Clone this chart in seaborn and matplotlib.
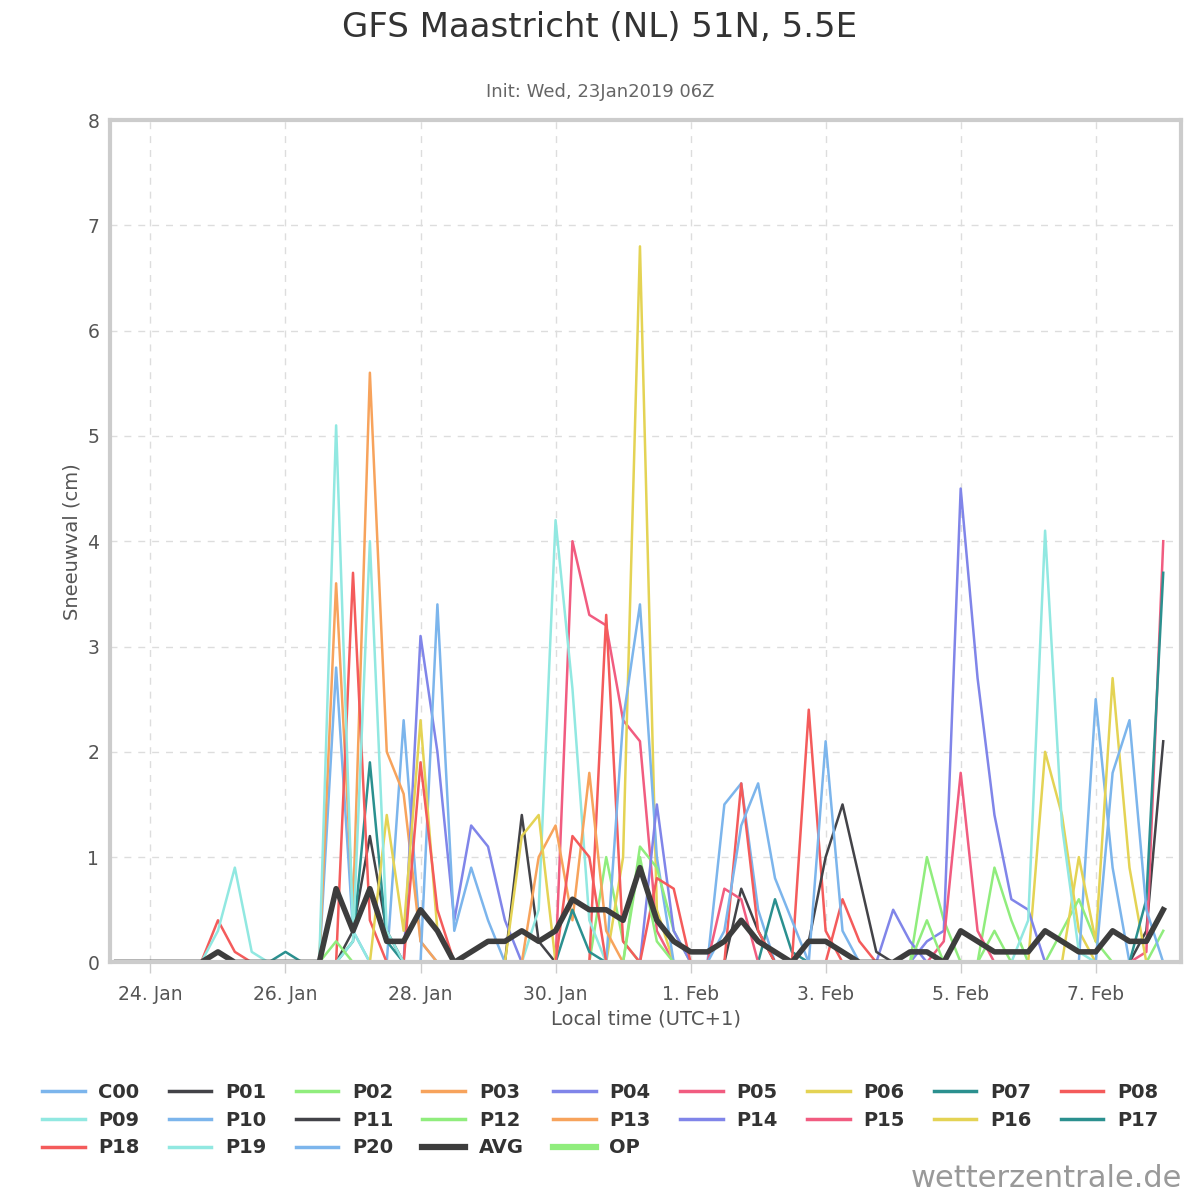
import numpy as np
import pandas as pd
import seaborn as sns
import matplotlib.pyplot as plt

# 6-hourly steps, first step at 23 Jan 12:00 local time
n_steps = 63
days = [-0.5 + 0.25 * i for i in range(n_steps)]

names = ["C00"] + [f"P{k:02d}" for k in range(1, 21)]
base_colors = ["#7cb5ec", "#434348", "#90ed7d", "#f7a35c", "#8085e9",
               "#f15c80", "#e4d354", "#2b908f", "#f45b5b", "#91e8e1"]

# peaks (step index: snowfall cm), all other steps 0
peaks = {
    "C00": {13: 2.8, 14: 0.3, 17: 2.3, 18: 0.2, 36: 1.5, 37: 1.7, 38: 0.5},
    "P01": {14: 0.3, 15: 1.2, 16: 0.3, 24: 1.4, 25: 0.2, 37: 0.7, 38: 0.3},
    "P02": {29: 1.0, 30: 0.2, 48: 1.0, 49: 0.4, 52: 0.9, 53: 0.4},
    "P03": {13: 3.6, 14: 0.5, 15: 5.6, 16: 2.0, 17: 1.6, 18: 0.2},
    "P04": {18: 3.1, 19: 2.0, 20: 0.4, 21: 1.3, 22: 1.1, 23: 0.4, 46: 0.5, 47: 0.2},
    "P05": {27: 4.0, 28: 3.3, 29: 3.2, 30: 2.3, 31: 2.1, 32: 0.3},
    "P06": {30: 1.0, 31: 6.8, 32: 0.5, 55: 2.0, 56: 1.4, 57: 0.3},
    "P07": {10: 0.1, 14: 0.2, 15: 1.9, 16: 0.2, 39: 0.6, 40: 0.1},
    "P08": {6: 0.4, 7: 0.1, 14: 3.7, 15: 0.4, 29: 3.3, 30: 0.2, 41: 2.4, 42: 0.3},
    "P09": {6: 0.3, 7: 0.9, 8: 0.1, 13: 5.1, 14: 0.3, 25: 0.5, 26: 4.2, 27: 2.6, 28: 0.4},
    "P10": {19: 3.4, 20: 0.3, 21: 0.9, 22: 0.4, 30: 2.3, 31: 3.4, 32: 1.0, 58: 2.5, 59: 0.9},
    "P11": {41: 0.2, 42: 1.0, 43: 1.5, 44: 0.8, 45: 0.1, 61: 0.3, 62: 2.1},
    "P12": {31: 1.1, 32: 0.9, 33: 0.3, 56: 0.3, 57: 0.6, 58: 0.2, 62: 0.3},
    "P13": {25: 1.0, 26: 1.3, 27: 0.4, 28: 1.8, 29: 0.3},
    "P14": {32: 1.5, 33: 0.3, 48: 0.2, 49: 0.3, 50: 4.5, 51: 2.7, 52: 1.4, 53: 0.6, 54: 0.5},
    "P15": {36: 0.7, 37: 0.6, 49: 0.2, 50: 1.8, 51: 0.3, 61: 0.1, 62: 4.0},
    "P16": {16: 1.4, 17: 0.3, 18: 2.3, 19: 0.3, 24: 1.2, 25: 1.4, 57: 1.0, 58: 0.2, 59: 2.7, 60: 0.9},
    "P17": {27: 0.5, 28: 0.1, 61: 0.6, 62: 3.7},
    "P18": {18: 1.9, 19: 0.5, 27: 1.2, 28: 1.0, 32: 0.8, 33: 0.7, 37: 1.7, 38: 0.3, 43: 0.6, 44: 0.2},
    "P19": {14: 0.2, 15: 4.0, 16: 0.3, 54: 0.4, 55: 4.1, 56: 1.3, 57: 0.1},
    "P20": {36: 0.3, 37: 1.3, 38: 1.7, 39: 0.8, 40: 0.4, 42: 2.1, 43: 0.3, 59: 1.8, 60: 2.3, 61: 0.5},
}
op_peaks = {13: 0.2, 31: 1.0, 32: 0.2, 48: 0.4, 52: 0.3}

avg = [0, 0, 0, 0, 0, 0, 0.1, 0, 0, 0, 0, 0, 0, 0.7, 0.3, 0.7, 0.2, 0.2, 0.5, 0.3,
       0, 0.1, 0.2, 0.2, 0.3, 0.2, 0.3, 0.6, 0.5, 0.5, 0.4, 0.9, 0.4, 0.2, 0.1, 0.1,
       0.2, 0.4, 0.2, 0.1, 0, 0.2, 0.2, 0.1, 0, 0, 0, 0.1, 0.1, 0, 0.3, 0.2, 0.1, 0.1,
       0.1, 0.3, 0.2, 0.1, 0.1, 0.3, 0.2, 0.2, 0.5]


def build(p):
    vals = np.zeros(n_steps)
    for k, v in p.items():
        vals[k] = v
    return vals


fig = plt.figure(figsize=(12, 12), dpi=100)
ax = fig.add_axes([0.092, 0.198, 0.892, 0.702])
handles = []
for j, name in enumerate(names):
    c = base_colors[j % 10]
    sns.lineplot(x=days, y=build(peaks[name]), color=c, lw=1.8, ax=ax)
    handles.append((plt.Line2D([], [], color=c, lw=2.5), name))
sns.lineplot(x=days, y=build(op_peaks), color="#90ed7d", lw=1.8, ax=ax)
sns.lineplot(x=days, y=avg, color="#3d3d3d", lw=4, ax=ax)
handles.append((plt.Line2D([], [], color="#3d3d3d", lw=4.5), "AVG"))
handles.append((plt.Line2D([], [], color="#90ed7d", lw=4.5), "OP"))

ax.set_xlim(-0.593, 15.26)
ax.set_ylim(0, 8)
ax.set_xticks(range(0, 15, 2))
ax.set_xticklabels(["24. Jan", "26. Jan", "28. Jan", "30. Jan", "1. Feb",
                    "3. Feb", "5. Feb", "7. Feb"])
ax.set_yticks(range(0, 9))
ax.tick_params(colors="#555555", labelsize=13.5, length=0, pad=8)
ax.tick_params(axis="x", length=8, color="#cccccc", width=1)
ax.grid(True, ls=(0, (5, 5)), color="#dddddd", lw=1)
for s in ax.spines.values():
    s.set_color("#cccccc")
    s.set_linewidth(3)
ax.set_xlabel("Local time (UTC+1)", fontsize=14, color="#555555")
ax.set_ylabel("Sneeuwval (cm)", fontsize=14, color="#555555")

fig.text(0.5, 0.977, "GFS Maastricht (NL) 51N, 5.5E", ha="center", va="center",
         fontsize=24.5, color="#333333")
fig.text(0.5, 0.923, "Init: Wed, 23Jan2019 06Z", ha="center", va="center",
         fontsize=13, color="#666666")
fig.text(0.985, 0.018, "wetterzentrale.de", ha="right", va="center",
         fontsize=22, color="#999999")

# reorder so the legend reads row by row
order = []
for j in range(9):
    for r in range(3):
        k = r * 9 + j
        if k < len(handles):
            order.append(handles[k])
fig.legend([h for h, _ in order], [l for _, l in order], ncol=9,
           loc="center", bbox_to_anchor=(0.5, 0.0665), frameon=False,
           prop={"weight": "bold", "size": 14}, handlelength=2.2,
           columnspacing=1.5, labelspacing=0.45, handletextpad=0.7,
           labelcolor="#333333")

fig.savefig("out.png", dpi=100)
